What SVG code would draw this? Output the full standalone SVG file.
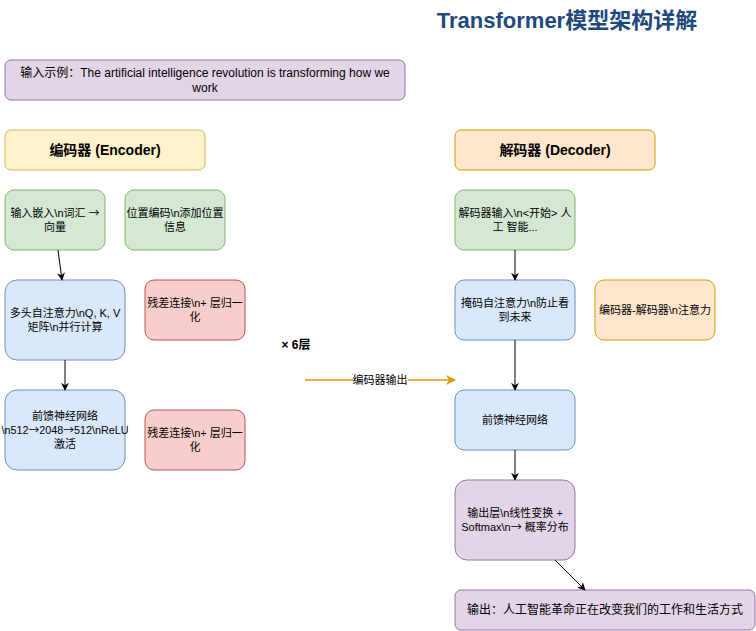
<svg xmlns="http://www.w3.org/2000/svg" width="756" height="631" viewBox="0 0 756 631">
<style>
text{font-family:"Liberation Sans","Noto Sans CJK SC",sans-serif;font-size:11px;fill:#000;text-anchor:middle}
.l{font-size:12px}
.ar{font-family:"Noto Sans CJK SC",sans-serif}
.purple{fill:#e1d5e7;stroke:#9673a6}
.yellow{fill:#fff2cc;stroke:#d6b656}
.orange{fill:#ffe6cc;stroke:#d79b00}
.green{fill:#d5e8d4;stroke:#82b366}
.blue{fill:#dae8fc;stroke:#6c8ebf}
.red{fill:#f8cecc;stroke:#b85450}
.b{font-weight:bold;font-size:14px}
.title{font-weight:bold;font-size:22px;fill:#1f497d}
.conn{fill:none;stroke:#000;stroke-width:1;marker-end:url(#arr)}
</style>
<defs>
<marker id="arr" viewBox="0 0 10 10" refX="9" refY="5" markerWidth="8" markerHeight="8" orient="auto" markerUnits="userSpaceOnUse"><path d="M0,0 L10,5 L0,10 L3,5 Z" fill="#000"/></marker>
<marker id="arrO" viewBox="0 0 10 10" refX="9" refY="5" markerWidth="10" markerHeight="10" orient="auto" markerUnits="userSpaceOnUse"><path d="M0,0 L10,5 L0,10 L3,5 Z" fill="#d79b00"/></marker>
</defs>
<rect width="756" height="631" fill="#fff"/>
<g id="title"><text class="title" x="567" y="28">Transformer模型架构详解</text></g>
<g id="input"><rect class="purple" x="5" y="60" width="400" height="40" rx="6"/><text class="l" x="205" y="77">输入示例：The artificial intelligence revolution is transforming how we</text><text class="l" x="205" y="92">work</text></g>
<g id="enc-header"><rect class="yellow" x="5" y="130" width="200" height="40" rx="6"/><text class="b" x="105" y="155">编码器 (Encoder)</text></g>
<g id="dec-header"><rect class="orange" x="455" y="130" width="200" height="40" rx="6"/><text class="b" x="555" y="155">解码器 (Decoder)</text></g>
<g id="embed"><rect class="green" x="5" y="190" width="100" height="60" rx="9"/><text x="55" y="217">输入嵌入\n词汇 <tspan class="ar">→</tspan></text><text x="55" y="231">向量</text></g>
<g id="posenc"><rect class="green" x="125" y="190" width="100" height="60" rx="9"/><text x="175" y="217">位置编码\n添加位置</text><text x="175" y="231">信息</text></g>
<g id="mha"><rect class="blue" x="5" y="280" width="120" height="80" rx="12"/><text x="65" y="317">多头自注意力\nQ, K, V</text><text x="65" y="331">矩阵\n并行计算</text></g>
<g id="res1"><rect class="red" x="145" y="280" width="100" height="60" rx="9"/><text x="195" y="307">残差连接\n+ 层归一</text><text x="195" y="321">化</text></g>
<g id="ffn"><rect class="blue" x="5" y="390" width="120" height="80" rx="12"/><text x="65" y="420">前馈神经网络</text><text x="65" y="434" textLength="127" lengthAdjust="spacingAndGlyphs">\n512<tspan class="ar">→</tspan>2048<tspan class="ar">→</tspan>512\nReLU</text><text x="65" y="448">激活</text></g>
<g id="res2"><rect class="red" x="145" y="410" width="100" height="60" rx="9"/><text x="195" y="437">残差连接\n+ 层归一</text><text x="195" y="451">化</text></g>
<g id="layers"><text class="l" x="296" y="349" style="font-weight:bold">× 6层</text></g>
<g id="decin"><rect class="green" x="455" y="190" width="120" height="60" rx="9"/><text x="515" y="217">解码器输入\n&lt;开始&gt; 人</text><text x="515" y="231">工 智能...</text></g>
<g id="masked"><rect class="blue" x="455" y="280" width="120" height="60" rx="9"/><text x="515" y="307">掩码自注意力\n防止看</text><text x="515" y="321">到未来</text></g>
<g id="crossattn"><rect class="orange" x="595" y="280" width="120" height="60" rx="9"/><text x="655" y="314">编码器-解码器\n注意力</text></g>
<g id="decffn"><rect class="blue" x="455" y="390" width="120" height="60" rx="9"/><text x="515" y="424">前馈神经网络</text></g>
<g id="outlayer"><rect class="purple" x="455" y="480" width="120" height="80" rx="12"/><text x="515" y="517">输出层\n线性变换 +</text><text x="515" y="531">Softmax\n<tspan class="ar">→</tspan> 概率分布</text></g>
<g id="output"><rect class="purple" x="455" y="590" width="300" height="40" rx="6"/><text class="l" x="605" y="614">输出：人工智能革命正在改变我们的工作和生活方式</text></g>
<g id="connectors">
<path class="conn" d="M58,250 L62,280"/>
<path class="conn" d="M65,360 L65,390"/>
<path class="conn" d="M515,250 L515,280"/>
<path class="conn" d="M515,340 L515,390"/>
<path class="conn" d="M515,450 L515,480"/>
<path class="conn" d="M555,560 L585,590"/>
<path d="M305,380 L455,380" fill="none" stroke="#d79b00" stroke-width="1.5" marker-end="url(#arrO)"/>
<rect x="353" y="373" width="55" height="13" fill="#fff"/>
<text x="380" y="384">编码器输出</text>
</g>
</svg>
